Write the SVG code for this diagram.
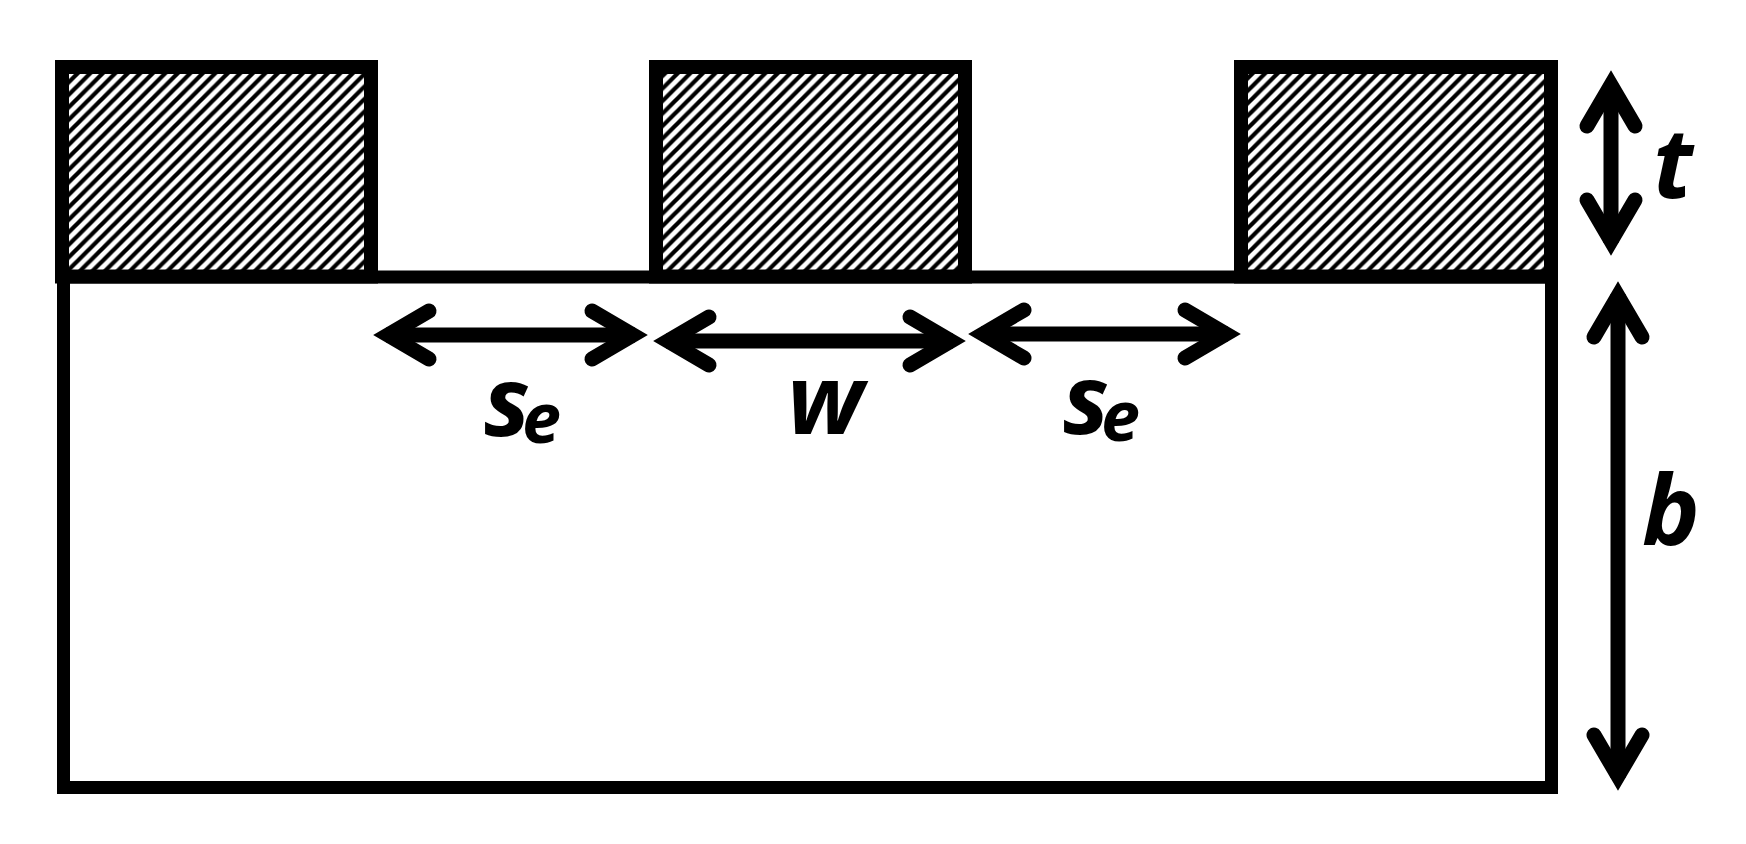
<svg xmlns="http://www.w3.org/2000/svg" xmlns:xlink="http://www.w3.org/1999/xlink" width="1746" height="844" viewBox="0 0 1746 844">
<style>
.cond{fill:url(#hatch);stroke:#000;stroke-width:14}
.sub{fill:#fff;stroke:#000;stroke-width:13}
.shaft{stroke:#000;stroke-width:15;fill:none}
.lab{font-family:"Noto Sans","Open Sans",sans-serif;font-weight:700;font-style:italic;font-size:97px;fill:#000}
.subs{font-size:70px}
.tight{letter-spacing:-8px}
</style>
<defs>
<pattern id="hatch" width="12.500" height="12.500" patternUnits="userSpaceOnUse" patternTransform="translate(1 0)">
<rect width="12.500" height="12.500" fill="#fff"/>
<path d="M-3,3 L3,-3 M-3,15.500 L15.500,-3 M9.500,15.500 L15.500,9.500" stroke="#000" stroke-width="4.200"/>
</pattern>
<path id="head" d="M-56,-24 L-15,0 L-56,24" fill="none" stroke="#000" stroke-width="15" stroke-linecap="round" stroke-miterlimit="4"/>
</defs>
<rect width="1746" height="844" fill="#fff"/>
<g id="substrate"><rect class="sub" x="63.500" y="277" width="1488" height="510.500"/></g>
<g id="conductor-left"><rect class="cond" x="62" y="67" width="309" height="209.500"/></g>
<g id="conductor-center"><rect class="cond" x="656" y="67" width="309" height="209.500"/></g>
<g id="conductor-right"><rect class="cond" x="1241" y="67" width="310" height="209.500"/></g>
<g id="connectors">
<path class="shaft" d="M386,335H635"/>
<use xlink:href="#head" href="#head" transform="translate(648,335)"/>
<use xlink:href="#head" href="#head" transform="translate(373,335) rotate(180)"/>
<path class="shaft" d="M666,341H953"/>
<use xlink:href="#head" href="#head" transform="translate(966,341)"/>
<use xlink:href="#head" href="#head" transform="translate(653,341) rotate(180)"/>
<path class="shaft" d="M981,334H1228"/>
<use xlink:href="#head" href="#head" transform="translate(1241,334)"/>
<use xlink:href="#head" href="#head" transform="translate(968,334) rotate(180)"/>
<path class="shaft" d="M1611,84V243"/>
<use xlink:href="#head" href="#head" transform="translate(1611,256) rotate(90)"/>
<use xlink:href="#head" href="#head" transform="translate(1611,70) rotate(-90)"/>
<path class="shaft" d="M1618,294V778"/>
<use xlink:href="#head" href="#head" transform="translate(1618,791) rotate(90)"/>
<use xlink:href="#head" href="#head" transform="translate(1618,281) rotate(-90)"/>
</g>
<g id="labels">
<text class="lab" x="484" y="436"><tspan class="tight">s</tspan><tspan class="subs" dy="7">e</tspan></text>
<text class="lab" x="787" y="434">w</text>
<text class="lab" x="1063" y="434"><tspan class="tight">s</tspan><tspan class="subs" dy="7">e</tspan></text>
<text class="lab" x="1653" y="198">t</text>
<text class="lab" x="1642" y="545">b</text>
</g>
</svg>
